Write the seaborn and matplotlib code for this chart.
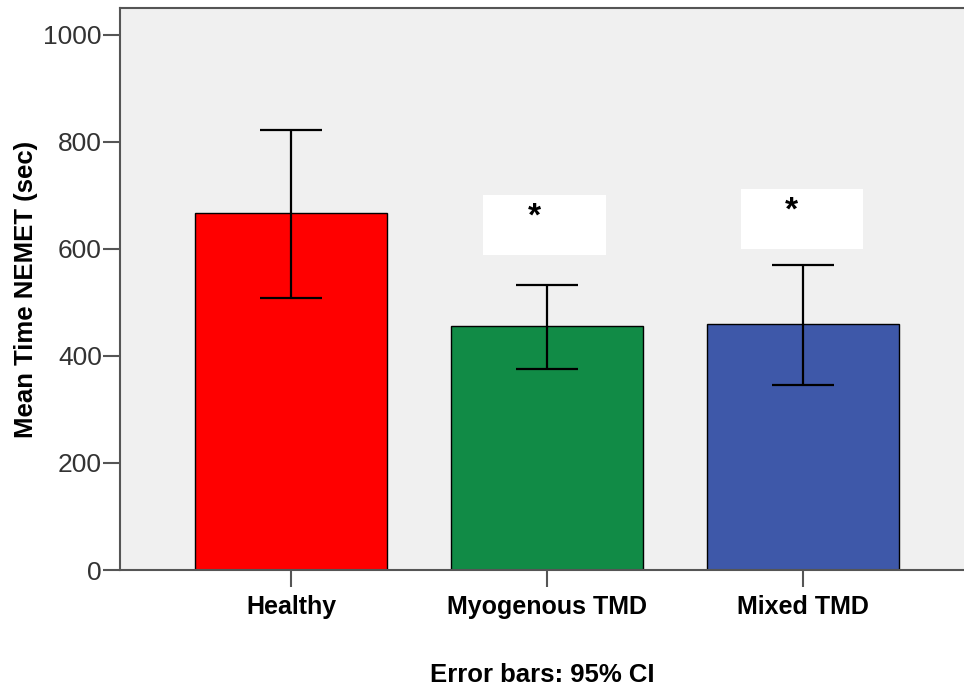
import matplotlib
matplotlib.use("Agg")
import matplotlib.pyplot as plt
from matplotlib.patches import Rectangle
import seaborn as sns
import pandas as pd

# --------------------------
# Data
# --------------------------
groups = ["Healthy", "Myogenous TMD", "Mixed TMD"]
mean_time = [667, 456, 460]
ci_low = [508, 376, 346]
ci_high = [822, 533, 570]
bar_colors = ["#FF0000", "#118B46", "#3E58A9"]

df = pd.DataFrame({"group": groups, "mean": mean_time})

# --------------------------
# Plot
# --------------------------
sns.set_style("white")
plt.rcParams["font.family"] = ["Liberation Sans", "DejaVu Sans"]

fig = plt.figure(figsize=(9.64, 6.88), dpi=100)
ax = fig.add_axes([120 / 964, 118 / 688, 1 - 120 / 964, (570 - 8) / 688])
ax.set_facecolor("#F0F0F0")

sns.barplot(
    data=df,
    x="group",
    y="mean",
    hue="group",
    palette=bar_colors,
    saturation=1,
    width=0.75,
    edgecolor="black",
    linewidth=1,
    errorbar=None,
    legend=False,
    ax=ax,
)

# error bars (95% CI)
lower = [m - lo for m, lo in zip(mean_time, ci_low)]
upper = [hi - m for m, hi in zip(mean_time, ci_high)]
ax.errorbar(range(len(groups)), mean_time, yerr=[lower, upper],
            fmt="none", ecolor="black", elinewidth=1.6, capsize=22, capthick=1.6)

# significance markers on white boxes
star_boxes = [(0.75, 589, 0.48, 112), (1.758, 600, 0.476, 112)]
for x0, y0, w, h in star_boxes:
    ax.add_patch(Rectangle((x0, y0), w, h, facecolor="white", edgecolor="none", zorder=3))
    ax.text(x0 + w / 2 - 0.04, y0 + h - 12, "*", ha="center", va="top",
            fontsize=24, fontweight="bold", color="black", zorder=4)

ax.set_ylim(0, 1050)
ax.set_xlim(-0.668, 2.63)
ax.set_yticks([0, 200, 400, 600, 800, 1000])

ax.set_ylabel("Mean Time NEMET (sec)", fontsize=18.5, fontweight="bold",
              color="black", labelpad=4)
ax.set_xlabel("Error bars: 95% CI", fontsize=18.5, fontweight="bold",
              color="black", labelpad=32)

ax.tick_params(axis="y", labelsize=19, labelcolor="#333333", length=12,
               width=1.5, color="#555555", direction="out", left=True, pad=1)
ax.tick_params(axis="x", labelsize=18, labelcolor="black", length=12, width=1.5,
               color="#555555", direction="out", bottom=True, pad=6)
for lbl in ax.get_xticklabels():
    lbl.set_fontweight("bold")

for side in ["left", "top", "bottom"]:
    ax.spines[side].set_visible(True)
    ax.spines[side].set_color("#555555")
    ax.spines[side].set_linewidth(1.5)
ax.spines["right"].set_visible(False)

fig.savefig("out.png", dpi=100)
